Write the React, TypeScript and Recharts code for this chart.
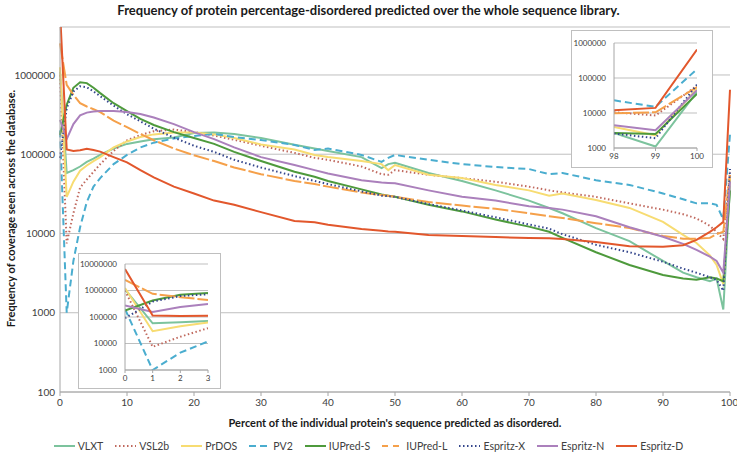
import React from 'react';
import { LineChart, Line, XAxis, YAxis, CartesianGrid } from 'recharts';

// percent of sequence predicted as disordered (x positions)
const pct = [0, 1, 2, 3, 4, 5, 6, 8, 10, 12, 14, 17, 20, 23, 26, 30, 35, 38, 40, 45, 48, 49, 50, 55, 60, 65, 70, 73, 75, 80, 85, 90, 93, 95, 97, 98, 99, 100];

const vlxt = [1100000, 58000, 63000, 70000, 80000, 88000, 98000, 118000, 135000, 145000, 155000, 163000, 185000, 188000, 180000, 160000, 132000, 118000, 110000, 92000, 67000, 75000, 78000, 58000, 46000, 35000, 26000, 21000, 18000, 11700, 8000, 4500, 3200, 2800, 2500, 2700, 1100, 40000];
const vsl2b = [1000000, 7500, 18000, 38000, 48000, 60000, 75000, 110000, 150000, 175000, 195000, 205000, 190000, 172000, 152000, 128000, 104000, 90000, 85000, 70000, 56000, 55000, 63000, 55000, 50000, 45000, 39000, 35000, 33000, 29000, 24000, 20000, 17500, 15500, 12500, 10500, 8500, 60000];
const prdos = [1250000, 29000, 45000, 62000, 72000, 82000, 92000, 122000, 145000, 165000, 178000, 188000, 188000, 178000, 160000, 133000, 115000, 98000, 92000, 82000, 75000, 63000, 73000, 55000, 50000, 41000, 35000, 30000, 32000, 26500, 21000, 14000, 9600, 7600, 5300, 4000, 2300, 50000];
const pv2 = [200000, 1000, 4500, 12000, 25000, 39000, 50000, 75000, 98000, 122000, 140000, 158000, 170000, 180000, 165000, 151000, 131000, 113000, 118000, 98000, 80000, 90000, 98000, 85000, 75000, 69000, 65000, 56000, 58000, 47000, 41000, 32000, 27000, 24000, 24000, 23000, 15000, 180000];
const iupredS = [175000, 420000, 690000, 810000, 790000, 690000, 590000, 440000, 350000, 280000, 234000, 190000, 160000, 135000, 107000, 82000, 60000, 52000, 46000, 36000, 31000, 30000, 29000, 23000, 19000, 15000, 12200, 10500, 8800, 5800, 4000, 3000, 2700, 2600, 2800, 2700, 2500, 35000];
const iupredL = [2500000, 750000, 560000, 440000, 400000, 370000, 340000, 265000, 220000, 180000, 150000, 118000, 97000, 82000, 68000, 56000, 46000, 42000, 39000, 33000, 30500, 30000, 29000, 25000, 22500, 20500, 18000, 16500, 15700, 13500, 11700, 9300, 8600, 8600, 8800, 9800, 10500, 55000];
const espritzX = [90000, 380000, 620000, 720000, 700000, 620000, 540000, 410000, 320000, 260000, 210000, 162000, 128000, 107000, 85000, 68000, 53000, 46000, 42000, 34000, 30000, 29500, 29000, 23500, 19500, 16000, 13000, 11500, 9800, 7200, 5800, 4400, 3600, 3200, 2800, 2600, 1900, 65000];
const espritzN = [270000, 155000, 240000, 310000, 335000, 345000, 350000, 352000, 340000, 322000, 290000, 240000, 190000, 155000, 122000, 92000, 73000, 63000, 57000, 47000, 44000, 43500, 43000, 35000, 29000, 26000, 22000, 21000, 20000, 16500, 12000, 9100, 7400, 6200, 5100, 4500, 3200, 45000];
const espritzD = [6500000, 115000, 110000, 112000, 117000, 113000, 108000, 92000, 79000, 63000, 51000, 39000, 32000, 26000, 23000, 18600, 14400, 13900, 12900, 11400, 10800, 10600, 10500, 9600, 9300, 9000, 8800, 8700, 8500, 7800, 6900, 6800, 7100, 8300, 10500, 12000, 14000, 650000];

const xTicks = [0, 10, 20, 30, 40, 50, 60, 70, 80, 90, 100];
const yTicks = [100, 1000, 10000, 100000, 1000000];
const leftInsetXTicks = [0, 1, 2, 3];
const leftInsetYTicks = [1000, 10000, 100000, 1000000, 10000000];
const rightInsetXTicks = [98, 99, 100];
const rightInsetYTicks = [1000, 10000, 100000, 1000000];

interface SeriesDef {
  key: string;
  name: string;
  color: string;
  dash?: string;
  legendDash?: string;
  values: number[];
}

const series: SeriesDef[] = [
  { key: 'vlxt', name: 'VLXT', color: '#7CC39D', values: vlxt },
  { key: 'vsl2b', name: 'VSL2b', color: '#C0695E', dash: '1.5 2.5', values: vsl2b },
  { key: 'prdos', name: 'PrDOS', color: '#F7DC72', values: prdos },
  { key: 'pv2', name: 'PV2', color: '#4AADCF', dash: '7 4', values: pv2 },
  { key: 'iupredS', name: 'IUPred-S', color: '#4E9A3C', values: iupredS },
  // excel restarts the dash on every short segment, so it reads almost solid
  { key: 'iupredL', name: 'IUPred-L', color: '#F5A04A', dash: '16 3', legendDash: '6 5', values: iupredL },
  { key: 'espritzX', name: 'Espritz-X', color: '#34468C', dash: '1.5 2.5', values: espritzX },
  { key: 'espritzN', name: 'Espritz-N', color: '#AB80BC', values: espritzN },
  { key: 'espritzD', name: 'Espritz-D', color: '#E2572C', values: espritzD },
];

const rows = pct.map((p, i) => {
  const r: Record<string, number> = { pct: p };
  series.forEach((s) => {
    r[s.key] = s.values[i];
  });
  return r;
});

const GRID = '#BFBFBF';
const AXIS = '#A6A6A6';
const TEXT = '#404040';
const fmt = (v: number) => String(v);

const lines = (w: number) =>
  series.map((s) => (
    <Line
      key={s.key}
      type="linear"
      dataKey={s.key}
      name={s.name}
      stroke={s.color}
      strokeWidth={w}
      strokeDasharray={s.dash}
      dot={false}
      activeDot={false}
      isAnimationActive={false}
    />
  ));

const Inset: React.FC<{
  left: number;
  top: number;
  width: number;
  height: number;
  data: Record<string, number>[];
  xDomain: [number, number];
  xTicks: number[];
  yDomain: [number, number];
  yTicks: number[];
  margin: { top: number; right: number; left: number; bottom: number };
  yWidth: number;
}> = ({ left, top, width, height, data, xDomain, xTicks, yDomain, yTicks, margin, yWidth }) => (
  <div
    style={{
      position: 'absolute',
      left,
      top,
      width,
      height,
      border: `1px solid ${GRID}`,
      background: '#fff',
    }}
  >
    <LineChart width={width} height={height} data={data} margin={margin}>
      <CartesianGrid vertical={false} stroke={GRID} />
      <XAxis
        dataKey="pct"
        type="number"
        domain={xDomain}
        ticks={xTicks}
        allowDataOverflow
        height={15}
        tickSize={3}
        tickMargin={2}
        tick={{ fontSize: 8, fill: TEXT }}
        tickLine={{ stroke: AXIS }}
        axisLine={{ stroke: AXIS }}
      />
      <YAxis
        scale="log"
        domain={yDomain}
        ticks={yTicks}
        allowDataOverflow
        width={yWidth}
        tickFormatter={fmt}
        tickSize={4}
        tickMargin={4}
        tick={{ fontSize: 8, fill: TEXT }}
        tickLine={false}
        axisLine={{ stroke: AXIS }}
      />
      {lines(2)}
    </LineChart>
  </div>
);

const LegendRow: React.FC = () => (
  <div
    style={{
      position: 'absolute',
      top: 440,
      left: 0,
      width: 737,
      display: 'flex',
      justifyContent: 'center',
      gap: 12,
      fontSize: 10.5,
      color: TEXT,
    }}
  >
    {series.map((s) => (
      <div key={s.key} style={{ display: 'flex', alignItems: 'center', gap: 3 }}>
        <svg width={21} height={12}>
          <line
            x1={0}
            y1={6}
            x2={21}
            y2={6}
            stroke={s.color}
            strokeWidth={2}
            strokeDasharray={s.legendDash ?? s.dash}
          />
        </svg>
        <span>{s.name}</span>
      </div>
    ))}
  </div>
);

export default function App() {
  return (
    <div
      style={{
        position: 'absolute',
        left: 0,
        top: 0,
        width: 737,
        height: 459,
        background: '#fff',
        fontFamily: 'Lato, "Open Sans", sans-serif',
      }}
    >
      <div
        style={{
          position: 'absolute',
          top: 2,
          left: 0,
          width: 737,
          textAlign: 'center',
          fontWeight: 700,
          fontSize: 13,
          color: '#1a1a1a',
        }}
      >
        Frequency of protein percentage-disordered predicted over the whole sequence library.
      </div>
      <LineChart width={737} height={459} data={rows} margin={{ top: 27, right: 7, left: 0, bottom: 47 }}>
        <CartesianGrid vertical={false} stroke={GRID} />
        <XAxis
          dataKey="pct"
          type="number"
          domain={[0, 100]}
          ticks={xTicks}
          height={20}
          tickSize={4}
          tickMargin={3}
          tick={{ fontSize: 10, fill: TEXT }}
          tickLine={{ stroke: AXIS }}
          axisLine={{ stroke: AXIS }}
        />
        <YAxis
          scale="log"
          domain={[100, 4030000]}
          ticks={yTicks}
          allowDataOverflow
          width={60}
          tickFormatter={fmt}
          tickSize={3}
          tickMargin={2}
          tick={{ fontSize: 10, fill: TEXT }}
          tickLine={false}
          axisLine={{ stroke: AXIS }}
        />
        {lines(2)}
      </LineChart>
      <div
        style={{
          position: 'absolute',
          left: 10 - 150,
          top: 210 - 8,
          width: 300,
          textAlign: 'center',
          transform: 'rotate(-90deg)',
          fontWeight: 700,
          fontSize: 11,
          color: '#1a1a1a',
        }}
      >
        Frequency of coverage seen across the database.
      </div>
      <div
        style={{
          position: 'absolute',
          top: 416,
          left: 60,
          width: 670,
          textAlign: 'center',
          fontWeight: 700,
          fontSize: 11,
          color: '#1a1a1a',
        }}
      >
        Percent of the individual protein's sequence predicted as disordered.
      </div>
      <Inset
        left={78}
        top={253}
        width={141}
        height={134}
        data={rows.filter((r) => r.pct <= 3)}
        xDomain={[0, 3]}
        xTicks={leftInsetXTicks}
        yDomain={[1000, 10000000]}
        yTicks={leftInsetYTicks}
        margin={{ top: 10, right: 12, left: 0, bottom: 3 }}
        yWidth={46}
      />
      <Inset
        left={571}
        top={30}
        width={140}
        height={136}
        data={rows.filter((r) => r.pct >= 98)}
        xDomain={[98, 100]}
        xTicks={rightInsetXTicks}
        yDomain={[1000, 1000000]}
        yTicks={rightInsetYTicks}
        margin={{ top: 12, right: 15, left: 0, bottom: 4 }}
        yWidth={42}
      />
      <LegendRow />
    </div>
  );
}
